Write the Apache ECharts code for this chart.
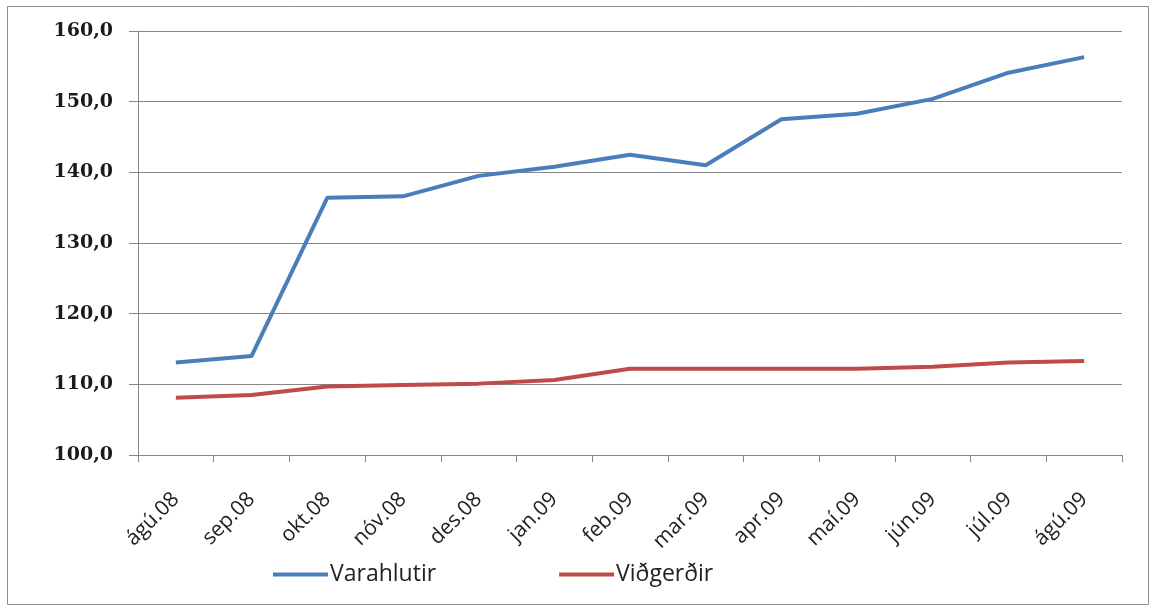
<!DOCTYPE html>
<html><head><meta charset="utf-8">
<script src="https://cdn.jsdelivr.net/npm/echarts@6/dist/echarts.min.js"></script>
<style>html,body{margin:0;padding:0;background:#fff}#c{width:1156px;height:610px}</style>
</head><body><div id="c"></div>
<script>
const categories = ['ágú.08','sep.08','okt.08','nóv.08','des.08','jan.09','feb.09','mar.09','apr.09','maí.09','jún.09','júl.09','ágú.09'];
const varahlutir = [113.1,114.0,136.4,136.6,139.5,140.8,142.5,141.0,147.5,148.3,150.4,154.1,156.3];
const vidgerdir = [108.1,108.5,109.7,109.9,110.1,110.6,112.2,112.2,112.2,112.2,112.5,113.1,113.3];
const seriesNames = ['Varahlutir','Viðgerðir'];

const chart = echarts.init(document.getElementById('c'), null, {renderer:'canvas'});
chart.setOption({
  animation:false,
  backgroundColor:'#fff',
  graphic:[{type:'rect',shape:{x:7.5,y:6.5,width:1141,height:598},style:{fill:'none',stroke:'#8c8c8c',lineWidth:1}}],
  grid:{left:138,right:34,top:31,bottom:155,containLabel:false},
  legend:{
    left:268, top:558, itemWidth:55, itemHeight:4, itemGap:123,
    icon:'rect',
    textStyle:{fontFamily:'Open Sans',fontSize:23,color:'#222',padding:[0,0,0,-3]},
    data:seriesNames
  },
  xAxis:{
    type:'category', data:categories, boundaryGap:true,
    axisLine:{lineStyle:{color:'#868686',width:1}},
    axisTick:{show:true,length:7,lineStyle:{color:'#868686'}},
    axisLabel:{rotate:45,margin:41,fontFamily:'Open Sans',fontSize:21,color:'#222',interval:0}
  },
  yAxis:{
    type:'value', min:100, max:160, interval:10,
    axisLine:{show:true,lineStyle:{color:'#868686'}},
    axisTick:{show:true,inside:false,length:9,lineStyle:{color:'#868686'}},
    splitLine:{show:true,lineStyle:{color:'#868686',width:1}},
    axisLabel:{margin:25,fontFamily:'DejaVu Serif',fontWeight:'bold',fontSize:19,color:'#1a1a1a',
      formatter:v=>v.toFixed(1).replace('.',',')}
  },
  series:[
    {name:seriesNames[0],type:'line',data:varahlutir,symbol:'none',lineStyle:{width:4,color:'#4a7ebb'},itemStyle:{color:'#4a7ebb'}},
    {name:seriesNames[1],type:'line',data:vidgerdir,symbol:'none',lineStyle:{width:4,color:'#be4b48'},itemStyle:{color:'#be4b48'}}
  ]
});
</script></body></html>
